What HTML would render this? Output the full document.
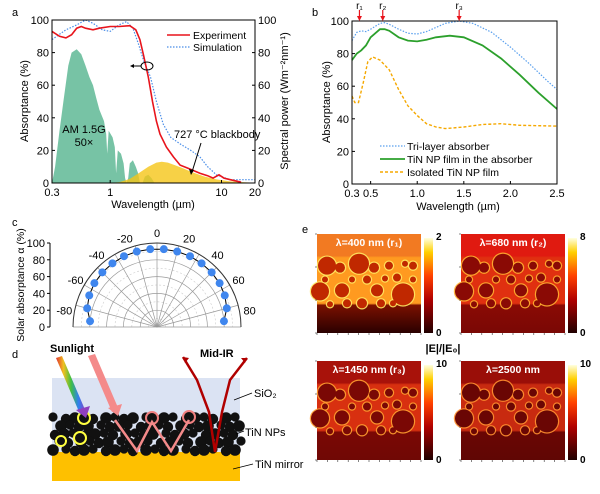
<!DOCTYPE html>
<html><head><meta charset="utf-8"><style>
html,body{margin:0;padding:0;background:#fff}
svg{display:block;font-family:"Liberation Sans",Arial,sans-serif}
</style></head><body>
<svg id="fig" width="600" height="494" viewBox="0 0 600 494">
<defs>
<linearGradient id="cbar" x1="0" y1="1" x2="0" y2="0">
<stop offset="0" stop-color="#200000"/><stop offset="0.35" stop-color="#b00000"/><stop offset="0.6" stop-color="#ff4000"/><stop offset="0.85" stop-color="#ffd000"/><stop offset="1" stop-color="#ffffe0"/></linearGradient>
<linearGradient id="rainbow" x1="0" y1="0" x2="1" y2="0">
<stop offset="0" stop-color="#e03030"/><stop offset="0.25" stop-color="#f0c020"/><stop offset="0.5" stop-color="#40c040"/><stop offset="0.75" stop-color="#3080f0"/><stop offset="1" stop-color="#9040c0"/></linearGradient>
</defs>
<g id="pa"></g>
<g id="pb"></g>
<g id="pc"></g>
<g id="pd"></g>
<g id="pe"></g>
</svg>
<script>
// ---- Panel a data ----
const expWl  = [0.3,0.35,0.4,0.45,0.5,0.55,0.6,0.7,0.8,1,1.2,1.5,1.7,1.85,2.0,2.2,2.4,2.6,2.8,3.2,3.7,4.25,5,6.4,7.5,8.4,9.5,10.5,12,15];
const expAbs = [93,90,89,91,95,96,95,94,95,96,96,96.5,94,88,78,65,50,38,30,22,16,11,9,6,4.5,3,5,3,2,0.5];
const simWl  = [0.3,0.4,0.5,0.6,0.7,0.85,1,1.2,1.4,1.6,1.8,2,2.3,2.6,3,3.5,4.25,5.3,6.4,7.5,9,12,16,20];
const simAbs = [88,94,97,100,98,94,93,97,99,95,85,75,65,50,36,28,24,20,16,10,5,2,2,2];
const amWl   = [0.3,0.32,0.35,0.38,0.42,0.45,0.5,0.55,0.6,0.65,0.7,0.75,0.8,0.88,0.92,0.94,0.97,1.05,1.1,1.13,1.17,1.25,1.32,1.36,1.4,1.45,1.5,1.6,1.7,1.78,1.85,1.95,2.05,2.2,2.35,2.5];
const amPow  = [0,10,32,50,72,80,82,79,72,65,60,52,45,38,30,18,32,28,22,6,20,18,12,3,0,3,12,14,10,6,0,0,4,5,3,0];
const bbWl   = [0.9,1.2,1.5,1.8,2.2,2.6,2.9,3.3,3.8,4.5,5.5,7,9,12,16,20];
const bbPow  = [0,0.5,2.5,6,10,12.5,13,12.5,11,9,6.5,4,2.2,1,0.4,0.2];
const aYTicks = [0,20,40,60,80,100];
const aXTicks = [0.3,1,10,20];
// ---- Panel b data ----
const bTriWl = [0.3,0.35,0.4,0.45,0.5,0.6,0.65,0.7,0.8,0.9,1.0,1.1,1.2,1.3,1.45,1.6,1.8,2.0,2.2,2.4,2.5];
const bTri   = [88,93,94,93.5,95,98.5,99,98,95,92.5,92,93.5,96,98.5,100,98.5,93,84,74,63,58];
const bTinWl = [0.3,0.35,0.4,0.45,0.5,0.6,0.65,0.7,0.8,0.9,1.0,1.1,1.2,1.35,1.5,1.7,1.9,2.1,2.3,2.5];
const bTin   = [76,80,82,85,90,95,95,94,90,88,87.5,88.5,90,91,90,85,77,67,56,46];
const bIsoWl = [0.3,0.33,0.37,0.42,0.47,0.52,0.6,0.7,0.8,0.9,1.0,1.1,1.2,1.3,1.5,1.7,1.9,2.1,2.5];
const bIso   = [54,50,50,62,75,78,76,70,58,48,42,37,35,34,35,36.5,37,36,35.5];
const bXTicks = [0.3,0.5,1.0,1.5,2.0,2.5];
const bXLabels = ["0.3","0.5","1.0","1.5","2.0","2.5"];
const bMarkers = [0.38,0.63,1.45];
const bMarkerLabels = ["r\u2081","r\u2082","r\u2083"];
// ---- Panel c data ----
const cAngles = [-85,-75,-65,-55,-45,-35,-25,-15,-5,5,15,25,35,45,55,65,75,85];
const cAbs    = [80,86,89,91,92,92.5,93,93,93,93,93,93,92.5,92,91,89,86,80];
const cAngleTicks = [-80,-60,-40,-20,0,20,40,60,80];

const NS="http://www.w3.org/2000/svg";
function mk(parent,tag,attrs,text){const e=document.createElementNS(NS,tag);for(const k in attrs)e.setAttribute(k,attrs[k]);if(text!==undefined)e.textContent=text;parent.appendChild(e);return e;}
function lineThrough(xs,ys,fx,fy){return xs.map((v,i)=>(i?'L':'M')+fx(v).toFixed(1)+','+fy(ys[i]).toFixed(1)).join('');}

// ===== Panel a =====
(function(){
const g=document.getElementById('pa');
const L=52,R=255,T=20,B=183;
const fx=v=>L+(R-L)*Math.log(v/0.3)/Math.log(20/0.3);
const fy=v=>B-(B-T)*v/100;
let e;
e=mk(g,'text',{x:12,y:16,'font-size':11},'a');

e=mk(g,'path',{d:lineThrough(amWl,amPow,fx,fy)+'Z',fill:'#5fb995','fill-opacity':0.85});

e=mk(g,'path',{d:lineThrough(bbWl,bbPow,fx,fy)+'L'+fx(20)+','+B+'L'+fx(0.9)+','+B+'Z',fill:'#f5c518','fill-opacity':0.8});

e=mk(g,'path',{d:lineThrough(simWl,simAbs,fx,fy),fill:'none',stroke:'#4a8ee8','stroke-width':1.2,'stroke-dasharray':'1.5,1.5'});

e=mk(g,'path',{d:lineThrough(expWl,expAbs,fx,fy),fill:'none',stroke:'#e8141c','stroke-width':1.6});

e=mk(g,'rect',{x:L,y:T,width:R-L,height:B-T,fill:'none',stroke:'#000','stroke-width':1});

aYTicks.forEach(v=>{
 mk(g,'line',{x1:L,x2:L+3,y1:fy(v),y2:fy(v),stroke:'#000'});
 mk(g,'line',{x1:R,x2:R-3,y1:fy(v),y2:fy(v),stroke:'#000'});
 e=mk(g,'text',{x:L-3,y:fy(v)+4,'font-size':11,'text-anchor':'end'},String(v));
 
 e=mk(g,'text',{x:R+3,y:fy(v)+4,'font-size':11},String(v));
 
});
aXTicks.forEach(v=>{
 mk(g,'line',{x1:fx(v),x2:fx(v),y1:B,y2:B-3,stroke:'#000'});
 e=mk(g,'text',{x:fx(v),y:B+13,'font-size':11,'text-anchor':'middle'},String(v));
 
});
e=mk(g,'text',{x:153,y:208,'font-size':11,'text-anchor':'middle'},'Wavelength (\u00b5m)');

e=mk(g,'text',{x:0,y:0,'font-size':11,'text-anchor':'middle',transform:'translate(28,101) rotate(-90)'},'Absorptance (%)');

e=mk(g,'text',{x:0,y:0,'font-size':11,'text-anchor':'middle',transform:'translate(288,101) rotate(-90)'},'Spectral power (Wm\u207b\u00b2nm\u207b\u00b9)');

mk(g,'line',{x1:167,x2:190,y1:35,y2:35,stroke:'#e8141c','stroke-width':1.6});
e=mk(g,'text',{x:193,y:39,'font-size':10.5},'Experiment');
mk(g,'line',{x1:167,x2:190,y1:47,y2:47,stroke:'#4a8ee8','stroke-width':1.2,'stroke-dasharray':'1.5,1.5'});
e=mk(g,'text',{x:193,y:51,'font-size':10.5},'Simulation');
mk(g,'ellipse',{cx:147,cy:66,rx:6,ry:4,fill:'none',stroke:'#000'});
mk(g,'line',{x1:141,x2:132,y1:66,y2:66,stroke:'#000'});
mk(g,'path',{d:'M130,66 L134,64 L134,68Z',fill:'#000'});
e=mk(g,'text',{x:84,y:133,'font-size':11,'text-anchor':'middle'},'AM 1.5G');
mk(g,'text',{x:84,y:146,'font-size':11,'text-anchor':'middle'},'50\u00d7');
e=mk(g,'text',{x:174,y:138,'font-size':11},'727 \u00b0C blackbody');
mk(g,'line',{x1:201,x2:192,y1:143,y2:172,stroke:'#000'});
mk(g,'path',{d:'M191,175 L189,169 L194,170Z',fill:'#000'});
})();

// ===== Panel b =====
(function(){
const g=document.getElementById('pb');
const L=352,R=557,T=21,B=184;
const fx=v=>L+(R-L)*(v-0.3)/2.2;
const fy=v=>B-(B-T)*v/100;
let e;
e=mk(g,'text',{x:312,y:16,'font-size':11},'b');
e=mk(g,'path',{d:lineThrough(bTriWl,bTri,fx,fy),fill:'none',stroke:'#5aa0ee','stroke-width':1.2,'stroke-dasharray':'1.5,1.5'});

e=mk(g,'path',{d:lineThrough(bTinWl,bTin,fx,fy),fill:'none',stroke:'#2ca02c','stroke-width':1.8});

e=mk(g,'path',{d:lineThrough(bIsoWl,bIso,fx,fy),fill:'none',stroke:'#f5a800','stroke-width':1.4,'stroke-dasharray':'3,2'});

mk(g,'rect',{x:L,y:T,width:R-L,height:B-T,fill:'none',stroke:'#000'});
[0,20,40,60,80,100].forEach(v=>{
 mk(g,'line',{x1:L,x2:L+3,y1:fy(v),y2:fy(v),stroke:'#000'});
 e=mk(g,'text',{x:L-3,y:fy(v)+4,'font-size':11,'text-anchor':'end'},String(v));
 
});
bXTicks.forEach((v,i)=>{
 mk(g,'line',{x1:fx(v),x2:fx(v),y1:B,y2:B-3,stroke:'#000'});
 e=mk(g,'text',{x:fx(v),y:B+13,'font-size':11,'text-anchor':'middle'},bXLabels[i]);
 
});
bMarkers.forEach((v,i)=>{
 mk(g,'line',{x1:fx(v),x2:fx(v),y1:10,y2:18,stroke:'#e8141c','stroke-width':1.2});
 mk(g,'path',{d:`M${fx(v)-2.5},16 L${fx(v)+2.5},16 L${fx(v)},21Z`,fill:'#e8141c'});
 e=mk(g,'text',{x:fx(v),y:9,'font-size':10,'text-anchor':'middle'},bMarkerLabels[i]);
 
});
e=mk(g,'text',{x:458,y:210,'font-size':11,'text-anchor':'middle'},'Wavelength (\u00b5m)');
e=mk(g,'text',{x:0,y:0,'font-size':11,'text-anchor':'middle',transform:'translate(330,102) rotate(-90)'},'Absorptance (%)');
mk(g,'line',{x1:380,x2:405,y1:146,y2:146,stroke:'#5aa0ee','stroke-width':1.2,'stroke-dasharray':'1.5,1.5'});
e=mk(g,'text',{x:407,y:150,'font-size':10.5},'Tri-layer absorber');
mk(g,'line',{x1:380,x2:405,y1:159,y2:159,stroke:'#2ca02c','stroke-width':1.8});
e=mk(g,'text',{x:407,y:163,'font-size':10.5},'TiN NP film in the absorber');
mk(g,'line',{x1:380,x2:405,y1:172,y2:172,stroke:'#f5a800','stroke-width':1.4,'stroke-dasharray':'3,2'});
e=mk(g,'text',{x:407,y:176,'font-size':10.5},'Isolated TiN NP film');
})();

// ===== Panel c =====
(function(){
const g=document.getElementById('pc');
const cx=157,cy=327,Rr=84;
const fr=v=>Rr*v/100;
const px=(a,v)=>cx+fr(v)*Math.sin(a*Math.PI/180);
const py=(a,v)=>cy-fr(v)*Math.cos(a*Math.PI/180);
let e;
e=mk(g,'text',{x:12,y:226,'font-size':11},'c');
[10,30,50,70,90].forEach(v=>mk(g,'path',{d:`M${cx-fr(v)},${cy} A${fr(v)},${fr(v)} 0 0 1 ${cx+fr(v)},${cy}`,fill:'none',stroke:'#ccc','stroke-width':0.6,'stroke-dasharray':'2,2'}));
[20,40,60,80].forEach(v=>mk(g,'path',{d:`M${cx-fr(v)},${cy} A${fr(v)},${fr(v)} 0 0 1 ${cx+fr(v)},${cy}`,fill:'none',stroke:'#999','stroke-width':0.7}));
for(let a=-90;a<=90;a+=15) mk(g,'line',{x1:cx,y1:cy,x2:px(a,100),y2:py(a,100),stroke:'#999','stroke-width':0.7});
e=mk(g,'path',{d:`M${cx-Rr},${cy} A${Rr},${Rr} 0 0 1 ${cx+Rr},${cy}`,fill:'none',stroke:'#333','stroke-width':1});

e=mk(g,'path',{d:cAngles.map((a,i)=>(i?'L':'M')+px(a,cAbs[i]).toFixed(1)+','+py(a,cAbs[i]).toFixed(1)).join(''),fill:'none',stroke:'#000','stroke-width':1});

cAngles.forEach((a,i)=>{
 e=mk(g,'circle',{cx:px(a,cAbs[i]),cy:py(a,cAbs[i]),r:4,fill:'#3f86ee'});
 
});
cAngleTicks.forEach(a=>{
 e=mk(g,'text',{x:px(a,112),y:py(a,112)+4,'font-size':11,'text-anchor':'middle'},String(a));
 
});
mk(g,'line',{x1:50,x2:50,y1:243,y2:327,stroke:'#000'});
[0,20,40,60,80,100].forEach(v=>{
 const y=cy-fr(v);
 mk(g,'line',{x1:47,x2:50,y1:y,y2:y,stroke:'#000'});
 e=mk(g,'text',{x:45,y:y+4,'font-size':11,'text-anchor':'end'},String(v));
 
});
e=mk(g,'text',{x:0,y:0,'font-size':10.5,'text-anchor':'middle',transform:'translate(24,285) rotate(-90)'},'Solar absorptance \u03b1 (%)');

})();

// ===== Panel d (schematic) =====
(function(){
const g=document.getElementById('pd');
let e;
e=mk(g,'text',{x:12,y:358,'font-size':11},'d');
e=mk(g,'rect',{x:52,y:378,width:188,height:36,fill:'#dbe3f3'});
e=mk(g,'rect',{x:52,y:452,width:188,height:29,fill:'#fec000'});
e=mk(g,'rect',{x:52,y:414,width:188,height:38,fill:'#dbe3f3'});
const np=mk(g,'g',{});
for(let row=0;row<5;row++){for(let i=0;i<19;i++){
 const x=55+i*10+((row%2)?5:0)+((i*7+row*3)%4)-2;
 const y=418+row*8+((i*5+row)%3)-1;
 const r=4.6+((i+row*2)%3)*0.6;
 mk(np,'circle',{cx:x,cy:y,r:r,fill:'#111'});
}}
mk(g,'circle',{cx:152,cy:418,r:6,fill:'#111',stroke:'#f08080','stroke-width':2});
mk(g,'circle',{cx:189,cy:417,r:6,fill:'#111',stroke:'#f08080','stroke-width':2});
mk(g,'circle',{cx:84,cy:418,r:6,fill:'#111',stroke:'#ffff40','stroke-width':2});
mk(g,'circle',{cx:80,cy:438,r:6,fill:'#111',stroke:'#ffff40','stroke-width':2});
mk(g,'circle',{cx:61,cy:441,r:5,fill:'#111',stroke:'#ffff40','stroke-width':2});
mk(g,'path',{d:'M56,358 L62,356 L86,412 L80,414Z',fill:'url(#rainbow)'});
mk(g,'path',{d:'M76,410 L90,406 L86,418Z',fill:'#9040c0'});
mk(g,'path',{d:'M88,356 L95,354 L119,410 L112,412Z',fill:'#f48a8a'});
mk(g,'path',{d:'M108,408 L122,404 L118,416Z',fill:'#f48a8a'});
mk(g,'path',{d:'M115,420 L137,451 L152,422 L171,451 L189,420',fill:'none',stroke:'#f48a8a','stroke-width':2.5});
mk(g,'path',{d:'M183,357 L197,380 L209,412 L215,452 L222,412 L230,380 L247,358',fill:'none',stroke:'#b00000','stroke-width':2.5});
mk(g,'path',{d:'M183,357 L189,358 L185,363Z M247,358 L241,358 L245,363Z',fill:'#b00000'});
e=mk(g,'text',{x:50,y:352,'font-size':11,'font-weight':'bold'},'Sunlight');
e=mk(g,'text',{x:200,y:357,'font-size':11,'font-weight':'bold'},'Mid-IR');
e=mk(g,'text',{x:254,y:397,'font-size':11},'SiO\u2082');
mk(g,'line',{x1:252,x2:234,y1:393,y2:400,stroke:'#000','stroke-width':0.8});
e=mk(g,'text',{x:245,y:436,'font-size':11},'TiN NPs');
mk(g,'line',{x1:244,x2:236,y1:431,y2:434,stroke:'#000','stroke-width':0.8});
e=mk(g,'text',{x:255,y:468,'font-size':11},'TiN mirror');
mk(g,'line',{x1:253,x2:233,y1:464,y2:469,stroke:'#000','stroke-width':0.8});
})();

// ===== Panel e (field maps) =====
(function(){
const g=document.getElementById('pe');
let e;
e=mk(g,'text',{x:302,y:233,'font-size':11},'e');
const holes=[[10,32,9],[42,30,10],[86,61,11],[3,58,9],[25,57,7],[60,57,6],[23,34,5],[57,34,5],[72,32,4],[96,32,4],[30,70,4],[45,70,5],[64,70,4],[13,71,3],[80,44,4],[50,46,4],[35,46,3],[96,46,3],[76,70,3],[88,30,3],[68,45,3],[8,46,3]];
const maps=[
 {x:317,y:234,title:'\u03bb=400 nm (r\u2081)',top:'#f27a22',mid:'#ff9a20',glow:'#ffe860',bot:'#2a0000',botTop:'#7a1000',hole:'#c02800',max:'2',name:'field-map-400nm'},
 {x:461,y:234,title:'\u03bb=680 nm (r\u2082)',top:'#e01a10',mid:'#e03010',glow:'#ffb030',bot:'#7a0805',botTop:'#8a0a05',hole:'#8a0a05',max:'8',name:'field-map-680nm'},
 {x:317,y:361,title:'\u03bb=1450 nm (r\u2083)',top:'#a8120a',mid:'#d83010',glow:'#ffa030',bot:'#700805',botTop:'#7a0805',hole:'#7a0805',max:'10',name:'field-map-1450nm'},
 {x:461,y:361,title:'\u03bb=2500 nm',top:'#9a0e08',mid:'#c82a10',glow:'#ff9030',bot:'#600604',botTop:'#6a0604',hole:'#6a0604',max:'10',name:'field-map-2500nm'}];
maps.forEach((m,k)=>{
 const W=104,H=99;
 const mg=mk(g,'g',{});
 
 
 const gid='grad'+k;
 const lg=mk(mg,'linearGradient',{id:gid,x1:0,y1:0,x2:0,y2:1});
 mk(lg,'stop',{offset:0,'stop-color':m.top});mk(lg,'stop',{offset:0.22,'stop-color':m.top});
 mk(lg,'stop',{offset:0.24,'stop-color':m.mid});mk(lg,'stop',{offset:0.7,'stop-color':m.mid});
 mk(lg,'stop',{offset:0.72,'stop-color':m.botTop});mk(lg,'stop',{offset:1,'stop-color':m.bot});
 mk(mg,'rect',{x:m.x,y:m.y,width:W,height:H,fill:'url(#'+gid+')'});
 holes.forEach(h=>mk(mg,'circle',{cx:m.x+h[0]*W/104,cy:m.y+h[1]*H/100,r:h[2]+1.2,fill:m.glow,'fill-opacity':0.9}));
 holes.forEach(h=>mk(mg,'circle',{cx:m.x+h[0]*W/104,cy:m.y+h[1]*H/100,r:h[2],fill:m.hole}));
 mk(mg,'text',{x:m.x+W/2,y:m.y+12,'font-size':10.5,'font-weight':'bold',fill:'#fff','text-anchor':'middle'},m.title);
 for(let i=0;i<=10;i++)mk(mg,'line',{x1:m.x+i*W/10,x2:m.x+i*W/10,y1:m.y+H,y2:m.y+H+2,stroke:'#333','stroke-width':0.6});
 for(let i=0;i<=3;i++)mk(mg,'line',{x1:m.x,x2:m.x-2,y1:m.y+i*H/3,y2:m.y+i*H/3,stroke:'#333','stroke-width':0.6});
 const cb=mk(mg,'rect',{x:m.x+W+3,y:m.y+4,width:9,height:H-4,fill:'url(#cbar)'});
 
 mk(mg,'text',{x:m.x+W+15,y:m.y+6,'font-size':10,'font-weight':'bold'},m.max);
 mk(mg,'text',{x:m.x+W+15,y:m.y+H+3,'font-size':10,'font-weight':'bold'},'0');
});
e=mk(g,'text',{x:443,y:352,'font-size':11,'font-weight':'bold','text-anchor':'middle'},'|E|/|E\u2080|');

})();
</script>
</body></html>
